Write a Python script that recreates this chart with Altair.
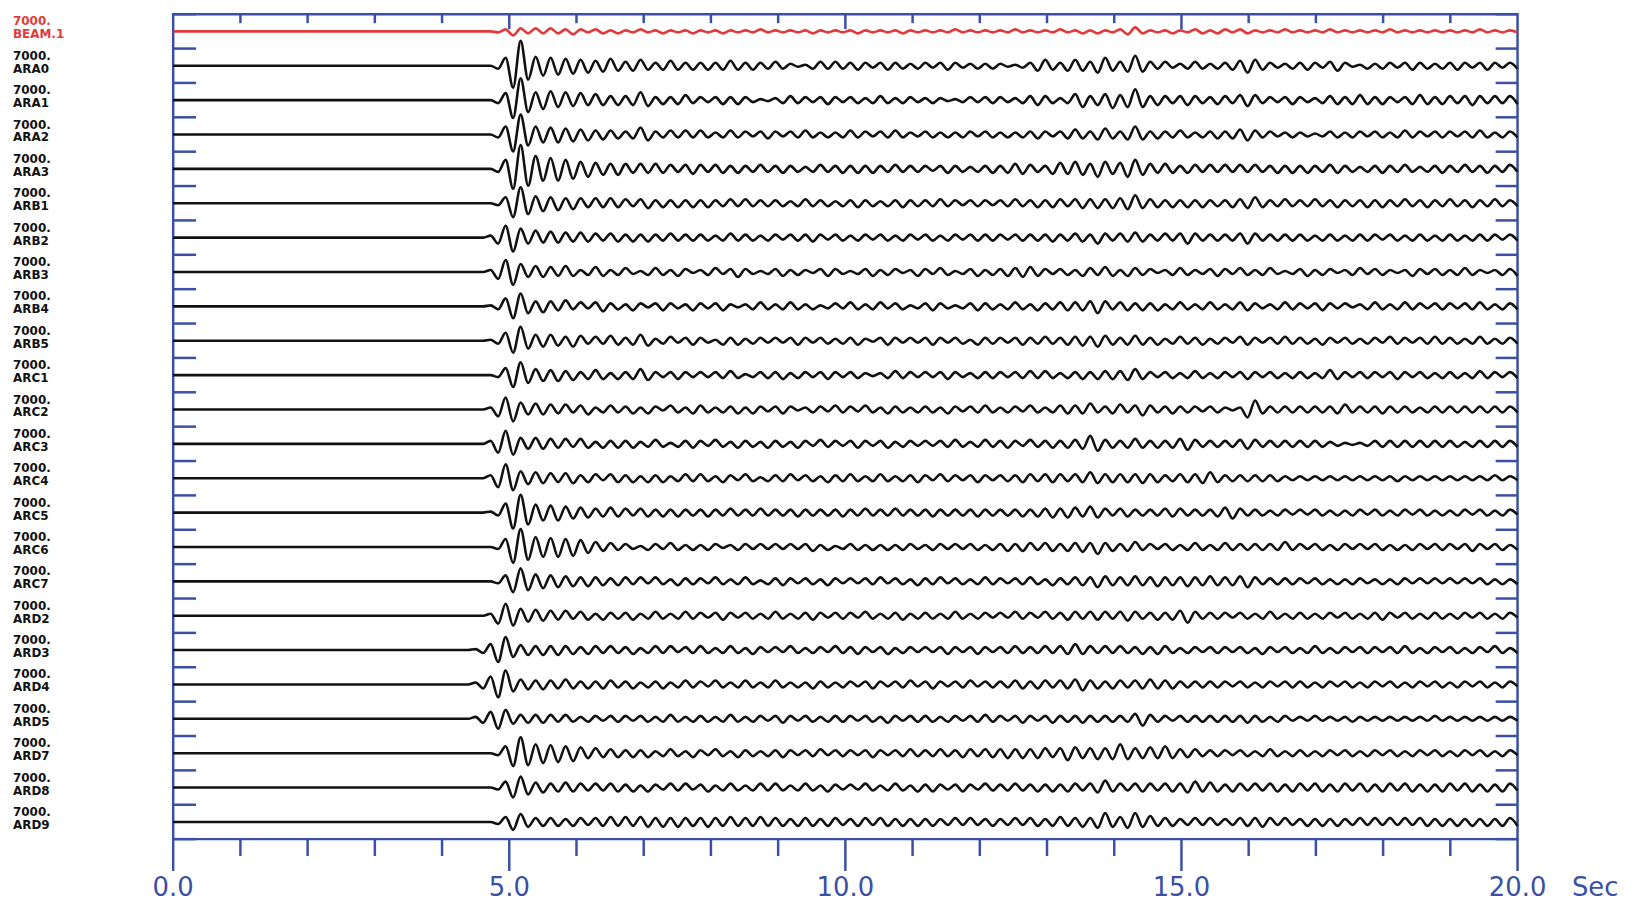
import altair as alt
import pandas as pd

# ---------------- data ----------------
STATIONS = ["BEAM.1", "ARA0", "ARA1", "ARA2", "ARA3", "ARB1", "ARB2", "ARB3",
            "ARB4", "ARB5", "ARC1", "ARC2", "ARC3", "ARC4", "ARC5", "ARC6",
            "ARC7", "ARD2", "ARD3", "ARD4", "ARD5", "ARD7", "ARD8", "ARD9"]
GAINS = ["7000."] * len(STATIONS)

MINOR_TICKS = [1, 2, 3, 4, 6, 7, 8, 9, 11, 12, 13, 14, 16, 17, 18, 19]
MAJOR_TICKS = [0, 5, 10, 15, 20]
TICK_LABELS = ["0.0", "5.0", "10.0", "15.0", "20.0"]
UNIT = ["Sec"]

ONSET = 4.5      # time of first listed extremum (s)
STEP = 0.1115    # time between successive extrema (s)

# peak/trough magnitudes (alternating sign)
AMPS = {
"BEAM.1": [0,0,0,1,2,4,3,2,3,2, 3,2,2,3,2,1,2,2,1,2, 1,1,2,1,1,2,1,1,1,2, 1,1,1,2,1,1,1,1,2,1,
           1,1,1,1,1,2,1,1,1,1, 1,2,1,1,1,1,1,2,1,1, 1,1,1,1,2,1,1,1,1,1, 1,1,2,1,1,1,1,1,2,1,
           1,2,1,2,1,1,2,3,4,2, 1,1,1,2,1,1,2,2,1,2, 2,1,2,2,1,1,1,1,2,1, 1,1,1,1,2,1,1,1,1,1,
           1,1,2,1,1,1,1,1,1,1, 1,1,1,1,2,1,1,1,1,1],
"ARA0": [0,0,0,3,8,22,25,14,9,10, 8,9,7,8,6,7,5,6,7,5, 4,5,6,4,3,4,5,4,3,4, 3,4,3,4,5,4,3,4,3,3,
         4,3,2,1,1,3,4,3,4,3, 3,4,3,2,3,4,3,3,2,3, 3,2,3,4,3,2,2,3,2,3, 2,1,1,2,3,5,6,4,3,5,
         6,5,4,7,8,5,4,6,10,6, 4,3,4,2,2,3,4,3,2,3, 3,4,5,7,6,4,3,2,2,3, 3,4,3,2,4,5,3,1,1,3,
         2,3,3,2,3,4,3,3,2,3, 3,4,3,2,3,4,3,2,3,3],
"ARA1": [0,0,0,3,7,18,22,12,8,9, 9,7,8,6,7,5,6,5,4,5, 4,5,8,6,3,4,3,4,5,3, 3,2,3,4,3,4,3,2,1,1,
         2,3,4,3,3,2,3,4,3,2, 3,3,2,3,4,3,2,3,3,2, 2,3,2,1,1,2,3,2,3,3, 3,2,2,3,4,5,4,3,2,3,
         6,7,4,5,6,8,5,7,11,7, 4,5,4,3,4,5,4,3,3,4, 4,3,5,6,5,3,3,2,3,4, 3,2,2,3,4,4,3,4,5,4,
         3,4,3,2,3,4,5,4,3,4, 4,3,4,5,4,3,4,3,4,4],
"ARA2": [0,0,0,3,8,17,20,11,8,8, 7,8,6,7,5,6,4,5,4,4, 3,4,7,6,3,3,4,3,4,3, 4,3,2,3,4,3,3,2,3,4,
         3,2,3,3,4,3,2,3,2,3, 4,3,3,2,3,3,4,3,2,2, 3,3,2,3,2,3,3,2,3,3, 2,3,2,3,3,4,3,2,3,4,
         5,4,3,5,6,4,3,5,8,5, 3,4,3,3,4,3,2,3,3,4, 3,4,5,6,4,3,3,2,2,3, 2,2,1,2,3,3,2,3,3,2,
         3,3,2,3,4,3,3,2,3,3, 3,2,3,3,4,3,2,3,3,3],
"ARA3": [0,0,0,3,9,20,24,17,13,12, 11,12,9,10,7,8,6,6,5,6, 5,4,5,4,5,4,4,3,4,5, 4,3,4,4,3,4,3,3,4,3,
         3,4,3,3,2,3,4,3,3,4, 3,4,3,4,3,3,4,3,3,3, 3,2,3,4,3,3,2,3,3,4, 3,4,5,5,4,3,3,5,6,5,
         7,6,5,8,7,5,6,8,9,6, 5,4,5,4,3,4,4,3,4,3, 4,3,4,3,4,3,3,4,3,4, 3,4,3,3,4,4,3,3,2,3,
         3,4,3,3,4,3,2,3,3,4, 3,3,4,3,3,4,3,3,4,3],
"ARB1": [0,0,0,2,6,14,16,11,7,8, 6,7,5,6,5,4,5,4,5,4, 4,3,4,5,3,4,3,4,3,4, 3,4,3,3,4,3,4,3,3,3,
         3,3,2,3,4,3,3,3,2,3, 3,4,3,3,2,3,3,4,3,3, 3,3,4,3,3,2,3,3,3,2, 3,3,4,3,3,4,3,4,4,3,
         4,5,4,5,4,5,5,6,8,5, 4,4,3,4,3,4,3,4,3,3, 3,4,4,5,6,4,3,3,4,3, 3,3,4,3,3,4,3,3,3,4,
         3,4,3,3,4,3,3,4,3,3, 4,3,3,4,3,3,4,3,3,3],
"ARB2": [0,0,2,6,12,14,9,6,7,5, 6,5,5,4,5,4,4,3,4,4, 3,4,3,4,3,3,4,3,3,3, 3,3,2,3,4,3,3,3,2,3,
         3,2,3,3,3,4,3,2,3,3, 2,3,3,2,3,3,2,3,3,2, 3,3,2,3,3,2,3,3,3,3, 3,2,3,3,3,3,3,4,3,3,
         4,4,3,6,4,3,4,4,5,4, 3,3,4,3,4,6,4,3,3,3, 3,3,4,6,4,3,3,3,3,3, 3,3,2,3,3,3,2,3,3,3,
         3,2,3,3,2,3,3,3,2,3, 3,3,2,3,3,3,3,2,3,3],
"ARB3": [0,0,2,7,12,13,8,5,6,5, 5,4,6,4,2,3,5,4,2,3, 4,2,1,3,4,3,2,4,3,1, 2,3,4,2,3,5,3,2,1,2,
         3,4,2,3,2,1,3,4,3,2, 1,2,3,4,2,3,3,1,2,4, 3,2,4,3,1,2,3,4,2,3, 3,4,4,5,5,4,3,2,3,3,
         2,4,4,3,5,4,2,4,4,3, 3,1,2,3,4,3,2,2,3,4, 3,2,4,3,2,3,4,2,1,2, 3,4,2,3,3,1,2,3,4,2,
         3,3,2,1,2,4,3,2,3,3, 2,3,4,3,2,1,2,3,3,4],
"ARB4": [0,0,1,3,8,12,13,7,5,6, 5,4,6,3,4,2,4,5,3,3, 2,4,3,1,3,4,3,2,2,4, 3,2,3,4,2,1,2,3,4,3,
         2,3,4,3,2,3,1,2,3,2, 4,3,2,3,4,2,3,3,1,2, 3,4,3,2,1,2,3,4,3,3, 2,3,4,3,2,4,3,3,4,4,
         4,4,5,7,5,3,4,4,3,4, 3,4,2,3,4,3,2,3,4,3, 2,3,4,4,3,2,2,3,4,3, 3,2,3,4,3,2,3,1,2,3,
         4,3,2,3,4,3,3,2,3,3, 3,2,3,3,4,3,2,3,3,3],
"ARB5": [0,0,1,3,8,12,14,8,6,6, 6,5,4,6,5,3,4,3,5,4, 3,4,6,5,2,3,4,2,3,4, 3,2,1,4,3,4,2,3,3,2,
         3,2,3,4,3,2,3,3,2,3, 3,4,2,1,3,4,3,2,3,2, 3,4,3,2,3,3,1,4,3,3, 3,2,3,4,3,3,4,3,3,4,
         4,5,4,6,5,4,3,4,5,4, 3,4,2,3,4,3,3,4,2,3, 3,2,4,4,3,2,3,3,4,3, 3,3,2,4,3,2,3,3,2,3,
         3,2,4,3,3,2,3,3,4,3, 3,3,2,3,4,3,2,3,3,3],
"ARC1": [0,0,0,2,7,12,13,8,6,6, 5,6,4,5,3,4,5,4,2,4, 3,4,6,5,3,2,3,4,3,2, 3,2,3,3,4,3,1,2,3,3,
         3,4,2,3,3,2,3,4,3,2, 3,3,2,1,2,3,4,3,3,2, 3,2,3,4,3,2,2,3,3,3, 3,2,3,3,4,3,4,3,2,3,
         3,4,3,4,4,4,4,5,6,4, 3,2,3,3,2,3,4,3,2,3, 3,2,3,4,3,2,3,3,2,3, 3,3,2,3,5,4,3,2,3,3,
         3,2,3,4,3,2,3,3,2,3, 3,3,2,3,4,3,3,2,3,3],
"ARC2": [0,0,2,7,12,12,7,5,6,5, 5,4,5,3,4,5,2,3,4,3, 3,4,2,4,3,1,4,3,2,4, 4,3,2,3,3,4,2,4,3,2,
         3,4,3,1,2,3,3,2,4,3, 3,2,4,3,2,4,3,3,2,3, 3,3,2,4,3,2,3,3,4,3, 2,3,3,2,4,3,2,3,4,4,
         4,4,6,3,3,4,5,3,4,6, 4,3,3,4,3,3,3,2,3,3, 2,1,2,8,9,4,3,3,3,3, 3,3,3,3,3,4,5,3,3,3,
         3,4,3,3,3,3,2,3,3,3, 3,3,3,3,3,3,3,3,3,3],
"ARC3": [0,0,3,9,13,11,6,5,6,5, 5,4,5,3,5,4,2,4,3,4, 3,4,2,3,4,3,1,3,3,4, 3,2,4,3,2,4,3,3,2,4,
         3,3,2,4,3,2,4,3,3,2, 3,4,3,2,3,4,2,3,3,2, 3,2,3,3,4,3,2,3,4,3, 3,4,3,2,4,3,3,4,3,4,
         4,5,8,7,4,4,3,4,5,4, 3,4,3,4,5,6,4,3,3,3, 3,3,4,5,4,3,3,3,3,3, 3,3,3,3,2,2,1,1,1,2,
         3,3,3,3,3,3,3,3,3,3, 3,3,2,3,3,3,3,3,3,3],
"ARC4": [0,0,3,9,14,12,7,6,6,5, 5,4,5,5,3,4,4,2,4,4, 3,4,2,4,3,4,2,3,4,3, 4,3,2,4,3,2,4,3,1,3,
         3,3,4,2,3,3,2,4,3,3, 4,3,2,3,4,3,2,3,3,4, 3,2,4,3,3,2,3,4,3,2, 3,3,3,4,4,3,4,4,4,3,
         4,4,6,5,4,4,4,4,4,5, 4,4,3,3,4,4,4,5,6,4, 3,3,3,3,3,3,3,3,2,2, 2,2,2,2,2,2,2,2,2,2,
         2,2,2,3,2,2,2,2,2,2, 2,2,2,2,2,2,3,2,2,2],
"ARC5": [0,0,1,3,9,16,18,12,8,8, 7,8,6,6,5,5,4,4,5,4, 4,3,4,4,3,4,3,4,3,3, 3,4,3,3,4,3,3,3,4,3,
         3,3,3,4,3,3,3,3,3,4, 3,3,4,3,3,3,4,3,3,3, 3,4,3,3,3,3,3,4,3,3, 3,3,3,4,3,4,4,5,4,5,
         5,4,6,5,4,3,4,4,3,3, 3,3,4,4,4,3,3,3,3,4, 5,6,4,3,3,3,2,3,3,2, 3,2,3,3,2,3,2,3,3,2,
         3,3,2,3,3,2,3,3,2,3, 2,3,3,2,3,3,2,3,3,2],
"ARC6": [0,0,0,2,8,16,18,13,10,10, 9,10,8,9,7,6,5,4,4,3, 3,2,1,3,3,2,4,3,2,3, 2,3,3,1,2,3,3,2,3,2,
         3,2,3,2,3,4,2,3,1,2, 3,3,2,3,2,3,2,3,3,2, 2,3,3,2,3,2,3,3,2,3, 3,4,3,4,4,3,4,4,3,4,
         4,5,4,7,4,4,3,4,5,3, 3,2,3,3,2,3,4,3,2,3, 4,3,3,3,3,3,3,3,5,3, 3,2,3,3,2,3,3,2,3,2,
         3,3,2,3,2,3,3,2,3,3, 3,2,3,4,3,2,3,3,2,3],
"ARC7": [0,0,0,2,6,11,13,9,7,7, 6,6,5,5,4,5,4,4,3,4, 4,3,4,2,4,3,2,4,3,3, 3,2,4,3,2,3,4,3,1,3,
         3,4,3,2,3,3,2,4,3,2, 3,2,3,3,4,2,3,3,2,4, 3,3,4,2,3,3,2,3,4,3, 3,2,3,3,4,3,2,4,3,3,
         4,4,4,6,5,4,4,4,5,4, 4,5,4,4,4,5,4,4,5,4, 4,4,5,6,4,3,3,3,3,3, 3,2,3,3,2,3,2,3,3,2,
         2,3,2,3,3,2,3,2,3,2, 3,2,3,2,3,3,2,3,2,3],
"ARD2": [0,0,2,8,12,10,7,6,6,5, 5,4,5,3,4,4,2,4,3,3, 3,4,2,3,4,3,2,3,4,3, 3,2,3,4,3,2,3,3,2,3,
         4,3,2,3,3,4,3,2,3,3, 3,2,4,3,2,3,3,4,2,3, 3,3,2,3,4,3,2,3,3,2, 3,2,4,3,3,2,4,3,3,4,
         4,3,4,4,4,3,4,5,4,3, 3,4,3,4,5,7,4,3,3,3, 3,2,3,3,2,3,4,3,2,3, 3,3,2,3,3,2,3,3,2,3,
         3,4,3,2,3,3,2,3,3,3, 2,3,3,2,3,3,2,3,3,2],
"ARD3": [1,3,6,12,13,7,5,5,4,5, 4,5,4,4,3,4,4,3,4,3, 3,4,2,3,4,3,4,2,3,3, 4,3,2,3,4,3,2,4,3,2,
         3,2,4,3,2,3,3,2,4,3, 3,4,3,2,3,4,2,3,3,2, 3,2,3,4,3,2,3,4,3,2, 3,3,4,3,3,3,4,3,4,4,
         6,4,4,3,4,3,4,3,3,4, 3,4,4,3,2,3,3,2,3,3, 3,2,3,3,2,4,3,2,3,3, 2,3,4,3,2,3,3,2,3,3,
         3,2,3,3,4,3,2,3,3,2, 3,3,2,3,3,2,4,3,2,3],
"ARD4": [2,4,8,13,14,7,5,5,4,5, 4,4,5,4,3,4,3,4,4,3, 3,4,2,3,3,4,2,3,4,3, 3,2,4,3,2,3,4,3,2,3,
         4,3,2,3,2,4,3,3,2,3, 3,2,3,4,3,2,3,3,4,2, 3,4,3,2,3,3,4,2,3,3, 3,3,4,4,3,4,4,3,4,4,
         5,6,4,4,3,4,4,3,4,4, 5,4,4,4,3,3,3,3,3,3, 3,2,3,3,2,3,3,2,3,3, 3,3,2,3,3,2,3,3,2,3,
         3,2,3,3,2,3,3,2,3,3, 2,3,3,2,3,3,2,3,3,2],
"ARD5": [2,4,7,10,9,5,4,4,4,4, 4,3,4,3,2,3,3,2,3,3, 3,2,3,3,2,3,4,3,2,3, 3,3,2,3,4,3,2,3,3,2,
         3,4,3,2,3,3,2,3,3,3, 3,2,3,3,2,4,3,2,3,3, 3,3,2,3,3,2,3,3,4,3, 3,2,3,4,3,2,3,4,3,3,
         3,4,3,3,3,3,3,3,5,7, 4,3,3,2,3,3,3,3,3,3, 3,3,3,4,3,3,2,3,3,2, 2,2,3,2,2,2,2,3,2,2,
         2,2,2,2,2,2,2,2,3,2, 2,2,2,2,2,2,2,2,2,2],
"ARD7": [0,0,0,2,7,13,16,12,9,10, 8,9,7,8,6,5,5,4,4,4, 3,4,3,4,2,3,4,3,2,4, 3,2,4,3,2,4,3,3,2,3,
         3,4,3,2,3,3,4,2,3,3, 3,2,3,4,3,2,3,3,4,3, 3,3,4,3,3,4,4,3,4,4, 4,5,4,5,4,5,5,4,5,7,
         6,5,5,6,5,6,9,6,5,5, 6,5,7,5,4,4,4,3,3,3, 3,2,3,3,2,3,4,3,2,3, 3,3,2,3,3,2,3,3,2,3,
         3,2,3,3,2,3,3,2,3,3, 2,3,3,2,3,3,2,3,3,2],
"ARD8": [0,0,0,2,6,10,11,7,5,5, 4,4,5,4,4,3,4,3,4,4, 3,4,2,4,3,2,4,3,4,2, 3,4,2,3,4,3,2,3,4,3,
         4,3,2,3,4,3,2,4,3,2, 3,2,4,3,2,3,4,3,2,4, 3,4,3,2,3,4,3,2,4,3, 3,3,4,3,3,4,3,4,3,4,
         4,3,4,5,7,4,4,3,4,4, 4,3,4,4,4,5,6,4,5,4, 3,4,4,3,4,3,4,4,3,4, 4,3,4,4,3,4,4,3,4,4,
         3,4,4,3,4,4,3,4,3,4, 4,3,4,4,3,4,3,4,4,3],
"ARD9": [0,0,0,2,5,8,8,5,4,4, 4,4,3,4,4,3,4,4,5,4, 5,4,5,5,4,5,4,5,4,4, 4,5,4,4,5,4,4,4,5,4,
         4,4,3,4,4,4,3,4,4,3, 3,4,4,3,4,4,3,4,3,4, 3,4,3,3,4,3,4,3,3,4, 3,3,4,3,4,4,3,4,5,4,
         4,5,4,6,9,5,5,6,9,5, 6,4,4,4,3,3,4,3,4,3, 3,3,4,4,4,5,4,3,4,3, 3,4,3,4,3,4,3,3,4,3,
         4,3,4,3,4,3,4,4,3,4, 3,4,3,4,3,4,3,4,4,4],
}

# ---------------- style ----------------
BLUE = "#3b4fa6"
RED = "#e23a3a"
BLACK = "#111111"
W, H = 1351, 829
ROW_PX = H / len(STATIONS)   # amplitudes above are in pixel-like units

rows = []
for k, st in enumerate(STATIONS):
    base = -(k + 0.5)
    rows.append({"station": st, "t": 0.0, "y": base})
    rows.append({"station": st, "t": ONSET - STEP, "y": base})   # quiet before onset
    for i, a in enumerate(AMPS[st]):
        t = ONSET + STEP * i
        if t > 20.0:
            break
        sign = 1 if i % 2 == 0 else -1
        rows.append({"station": st, "t": t, "y": base + sign * a / ROW_PX})
traces = pd.DataFrame(rows)

labels = pd.DataFrame({"station": STATIONS, "gain": GAINS,
                       "yc": [-(k + 0.5) for k in range(len(STATIONS))]})
bounds = pd.DataFrame({"b": [-k for k in range(len(STATIONS) + 1)]})
minor = pd.DataFrame({"t": MINOR_TICKS})
top_major = pd.DataFrame({"t": [v for v in MAJOR_TICKS if 0 < v < 20]})
major = pd.DataFrame({"t": MAJOR_TICKS, "lab": TICK_LABELS})
unit = pd.DataFrame({"t": [MAJOR_TICKS[-1]], "lab": UNIT})

xs = alt.Scale(domain=[0, 20], nice=False, zero=False)
ys = alt.Scale(domain=[-len(STATIONS), 0], nice=False, zero=False)
cs = alt.Scale(domain=STATIONS, range=[RED] + [BLACK] * (len(STATIONS) - 1))

X = alt.X("t:Q", scale=xs, axis=None)

lines = alt.Chart(traces).mark_line(
    interpolate="monotone", strokeWidth=2.6, strokeJoin="round"
).encode(
    x=X,
    y=alt.Y("y:Q", scale=ys, axis=None),
    color=alt.Color("station:N", scale=cs, legend=None),
    detail="station:N",
)

tick_style = dict(color=BLUE, strokeWidth=2.5)
top_minor_r = alt.Chart(minor).mark_rule(**tick_style).encode(
    x=X, y=alt.value(0), y2=alt.value(9))
top_major_r = alt.Chart(top_major).mark_rule(**tick_style).encode(
    x=X, y=alt.value(0), y2=alt.value(15))
bot_minor_r = alt.Chart(minor).mark_rule(**tick_style).encode(
    x=X, y=alt.value(H), y2=alt.value(H + 17))
bot_major_r = alt.Chart(major).mark_rule(**tick_style).encode(
    x=X, y=alt.value(H), y2=alt.value(H + 32))
tick_text = alt.Chart(major).mark_text(
    font="DejaVu Sans", fontSize=26, color=BLUE, baseline="middle", align="center"
).encode(x=X, y=alt.value(H + 49), text="lab:N")
unit_text = alt.Chart(unit).mark_text(
    font="DejaVu Sans", fontSize=26, color=BLUE, baseline="middle", align="center", dx=78
).encode(x=X, y=alt.value(H + 49), text="lab:N")

left_ticks = alt.Chart(bounds).mark_rule(**tick_style).encode(
    x=alt.value(0), x2=alt.value(23), y=alt.Y("b:Q", scale=ys, axis=None))
right_ticks = alt.Chart(bounds).mark_rule(**tick_style).encode(
    x=alt.value(W - 22), x2=alt.value(W), y=alt.Y("b:Q", scale=ys, axis=None))

lab_style = dict(font="DejaVu Sans", fontSize=12, fontWeight="bold",
                 align="left", baseline="middle")
gain_text = alt.Chart(labels).mark_text(dy=-10, **lab_style).encode(
    x=alt.value(-161), y=alt.Y("yc:Q", scale=ys, axis=None), text="gain:N",
    color=alt.Color("station:N", scale=cs, legend=None))
name_text = alt.Chart(labels).mark_text(dy=3, **lab_style).encode(
    x=alt.value(-161), y=alt.Y("yc:Q", scale=ys, axis=None), text="station:N",
    color=alt.Color("station:N", scale=cs, legend=None))

chart = alt.layer(
    left_ticks, right_ticks, top_minor_r, top_major_r, bot_minor_r, bot_major_r,
    lines, tick_text, unit_text, gain_text, name_text
).properties(
    width=W, height=H,
    padding={"left": 166, "top": 4, "right": 110, "bottom": 70},
    autosize=alt.AutoSizeParams(type="none"),
).configure_view(stroke=BLUE, strokeWidth=2.5)

chart.save("out.html", embed_options={"renderer": "svg", "actions": False})
